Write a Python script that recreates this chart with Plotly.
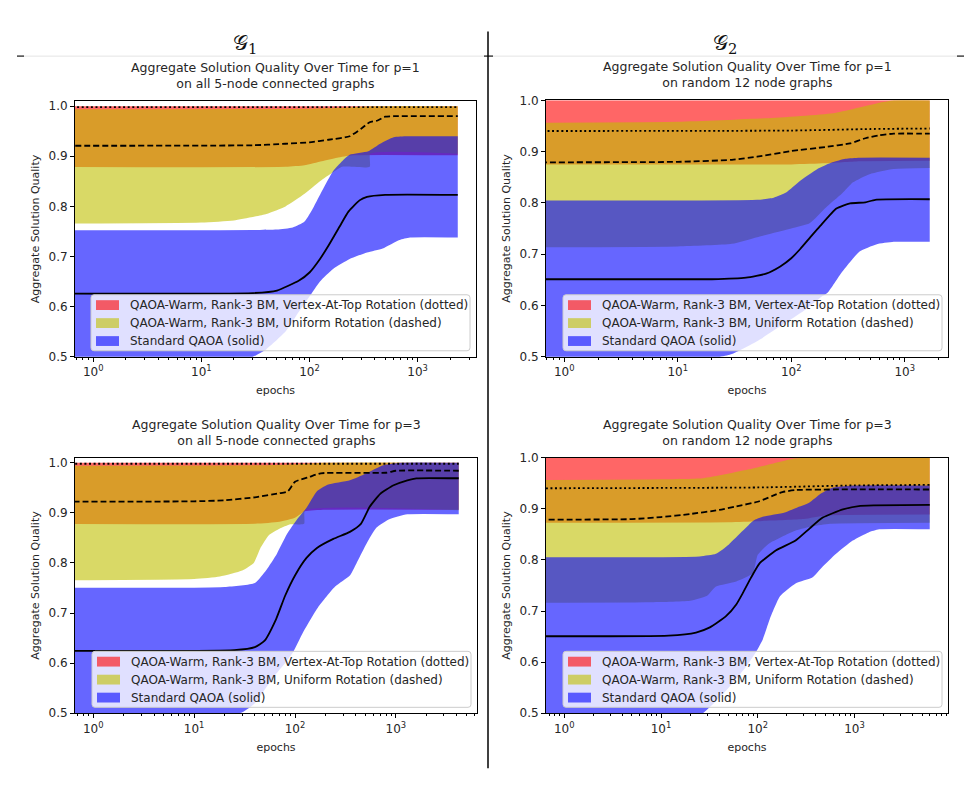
import plotly.graph_objects as go
import math

# ---------------------------------------------------------------- data
COLUMN_HEADERS = ["𝒢<sub>1</sub>", "𝒢<sub>2</sub>"]
PANEL_TITLES = [
    "Aggregate Solution Quality Over Time for p=1<br>on all 5-node connected graphs",
    "Aggregate Solution Quality Over Time for p=1<br>on random 12 node graphs",
    "Aggregate Solution Quality Over Time for p=3<br>on all 5-node connected graphs",
    "Aggregate Solution Quality Over Time for p=3<br>on random 12 node graphs",
]
LEGEND_LABELS = [
    "QAOA-Warm, Rank-3 BM, Vertex-At-Top Rotation (dotted)",
    "QAOA-Warm, Rank-3 BM, Uniform Rotation (dashed)",
    "Standard QAOA (solid)",
]
X_LABEL = "epochs"
Y_LABEL = "Aggregate Solution Quality"
X_TICK_VALS = [1, 10, 100, 1000]
X_TICK_TEXT = ["10<sup>0</sup>", "10<sup>1</sup>", "10<sup>2</sup>", "10<sup>3</sup>"]
Y_TICK_VALS = [0.5, 0.6, 0.7, 0.8, 0.9, 1.0]
Y_TOP = [1.0098, 1.0, 1.0098, 1.0]

# (epoch, quality) points; "vat" = vertex-at-top, "uni" = uniform, "std" = standard QAOA
# --- p=1, 5-node graphs
tl_vat_mean = [(0.1, 0.998), (2350, 0.998)]
tl_vat_lo = [(0.1, 0.879), (60, 0.879), (90, 0.882), (130, 0.89), (180, 0.897), (250, 0.902), (2350, 0.902)]
tl_vat_hi = [(0.1, 1.0), (2350, 1.0)]
tl_uni_mean = [(0.1, 0.921), (30, 0.922), (60, 0.925), (100, 0.928), (150, 0.933), (235, 0.94), (300, 0.955),
               (360, 0.968), (420, 0.971), (500, 0.979), (600, 0.98), (2350, 0.98)]
tl_uni_lo = [(0.1, 0.765), (10, 0.768), (20, 0.772), (40, 0.785), (60, 0.8), (90, 0.825), (125, 0.85),
             (165, 0.868), (200, 0.879), (360, 0.879), (365, 0.905), (2350, 0.905)]
tl_uni_hi = [(0.1, 0.994), (100, 0.995), (200, 0.997), (400, 1.0), (2350, 1.0)]
tl_std_mean = [(0.1, 0.626), (30, 0.627), (50, 0.632), (80, 0.652), (100, 0.668), (125, 0.695), (150, 0.722),
               (190, 0.76), (230, 0.79), (290, 0.812), (340, 0.819), (500, 0.823), (2350, 0.823)]
tl_std_lo = [(0.1, 0.49), (20, 0.495), (30, 0.5), (40, 0.515), (60, 0.55), (80, 0.59), (100, 0.62), (125, 0.65),
             (165, 0.675), (235, 0.695), (340, 0.708), (475, 0.716), (680, 0.733), (850, 0.738), (2350, 0.738)]
tl_std_hi = [(0.1, 0.752), (30, 0.753), (50, 0.754), (70, 0.758), (90, 0.77), (110, 0.8), (130, 0.83),
             (165, 0.87), (200, 0.89), (235, 0.903), (350, 0.91), (450, 0.925), (600, 0.938), (800, 0.94),
             (2350, 0.94)]

# --- p=1, 12-node graphs
tr_vat_mean = [(0.1, 0.940), (100, 0.941), (500, 0.944), (1660, 0.945)]
tr_vat_lo = [(0.1, 0.875), (100, 0.875), (200, 0.877), (400, 0.881), (1660, 0.882)]
tr_vat_hi = [(0.1, 1.0), (1660, 1.0)]
tr_uni_mean = [(0.1, 0.879), (10, 0.88), (30, 0.884), (50, 0.89), (100, 0.901), (200, 0.909), (330, 0.916),
               (450, 0.926), (600, 0.932), (800, 0.935), (1660, 0.935)]
tr_uni_lo = [(0.1, 0.713), (10, 0.715), (30, 0.72), (50, 0.733), (100, 0.75), (145, 0.76), (200, 0.79),
             (280, 0.818), (350, 0.84), (490, 0.856), (800, 0.866), (1660, 0.868)]
tr_uni_hi = [(0.1, 0.956), (10, 0.958), (60, 0.965), (234, 0.975), (565, 0.994), (800, 1.0), (1660, 1.0)]
tr_std_mean = [(0.1, 0.651), (20, 0.651), (40, 0.654), (60, 0.662), (80, 0.676), (100, 0.692), (120, 0.71),
               (150, 0.735), (180, 0.755), (250, 0.789), (330, 0.799), (450, 0.801), (550, 0.806), (1660, 0.807)]
tr_std_lo = [(0.1, 0.495), (20, 0.497), (30, 0.505), (50, 0.53), (85, 0.563), (130, 0.59), (180, 0.615),
             (210, 0.625), (280, 0.665), (400, 0.705), (560, 0.719), (800, 0.724), (1660, 0.724)]
tr_std_hi = [(0.1, 0.805), (50, 0.806), (70, 0.81), (90, 0.82), (120, 0.843), (170, 0.866), (230, 0.879),
             (300, 0.886), (400, 0.888), (1660, 0.888)]

# --- p=3, 5-node graphs
bl_vat_mean = [(0.1, 0.998), (4200, 0.998)]
bl_vat_lo = [(0.1, 0.878), (40, 0.878), (70, 0.882), (100, 0.89), (125, 0.903), (200, 0.906), (4200, 0.906)]
bl_vat_hi = [(0.1, 1.0), (4200, 1.0)]
bl_uni_mean = [(0.1, 0.922), (10, 0.923), (20, 0.925), (40, 0.931), (70, 0.939), (85, 0.943), (100, 0.962),
               (140, 0.972), (180, 0.979), (800, 0.98), (1000, 0.984), (4200, 0.984)]
bl_uni_lo = [(0.1, 0.765), (10, 0.768), (18, 0.773), (30, 0.785), (39, 0.8), (45, 0.828), (55, 0.855),
             (70, 0.868), (90, 0.877), (123, 0.878), (126, 0.905), (4200, 0.905)]
bl_uni_hi = [(0.1, 0.994), (50, 0.995), (100, 0.997), (200, 1.0), (4200, 1.0)]
bl_std_mean = [(0.1, 0.625), (25, 0.626), (40, 0.632), (50, 0.645), (65, 0.688), (80, 0.735), (100, 0.775),
               (130, 0.81), (165, 0.83), (240, 0.848), (350, 0.862), (450, 0.878), (550, 0.912), (700, 0.938),
               (950, 0.955), (1300, 0.965), (1600, 0.969), (4200, 0.969)]
bl_std_lo = [(0.1, 0.49), (20, 0.494), (30, 0.502), (40, 0.52), (60, 0.57), (80, 0.6), (96, 0.622), (120, 0.661),
             (170, 0.712), (250, 0.753), (350, 0.775), (420, 0.805), (510, 0.838), (640, 0.87), (860, 0.887),
             (1300, 0.897), (4200, 0.897)]
bl_std_hi = [(0.1, 0.751), (20, 0.752), (40, 0.76), (52, 0.786), (66, 0.818), (83, 0.857), (105, 0.887),
             (130, 0.91), (165, 0.943), (210, 0.956), (350, 0.965), (500, 0.978), (750, 0.995), (1100, 1.0),
             (4200, 1.0)]

# --- p=3, 12-node graphs
br_vat_mean = [(0.1, 0.940), (100, 0.942), (1000, 0.946), (6000, 0.947)]
br_vat_lo = [(0.1, 0.873), (50, 0.874), (100, 0.876), (300, 0.88), (500, 0.887), (6000, 0.889)]
br_vat_hi = [(0.1, 1.0), (6000, 1.0)]
br_uni_mean = [(0.1, 0.879), (5, 0.88), (10, 0.884), (20, 0.89), (40, 0.898), (60, 0.905), (100, 0.914),
               (140, 0.925), (180, 0.933), (250, 0.937), (6000, 0.938)]
br_uni_lo = [(0.1, 0.716), (7, 0.717), (20, 0.72), (30, 0.73), (37, 0.748), (60, 0.758), (89, 0.774),
             (100, 0.81), (130, 0.832), (190, 0.848), (250, 0.858), (370, 0.866), (560, 0.871), (6000, 0.873)]
br_uni_hi = [(0.1, 0.956), (10, 0.958), (27, 0.96), (89, 0.979), (230, 0.998), (300, 1.0), (6000, 1.0)]
br_std_mean = [(0.1, 0.651), (12, 0.652), (23, 0.658), (32, 0.668), (47, 0.69), (60, 0.713), (70, 0.735),
               (85, 0.765), (104, 0.793), (155, 0.819), (246, 0.838), (345, 0.862), (470, 0.883), (760, 0.899),
               (1150, 0.906), (6000, 0.908)]
br_std_lo = [(0.1, 0.49), (20, 0.495), (27, 0.5), (50, 0.55), (75, 0.59), (96, 0.62), (113, 0.645), (133, 0.684),
             (170, 0.729), (246, 0.754), (370, 0.766), (470, 0.787), (645, 0.812), (960, 0.838), (1400, 0.854),
             (1800, 0.86), (6000, 0.86)]
br_std_hi = [(0.1, 0.806), (25, 0.807), (37, 0.812), (50, 0.83), (70, 0.857), (90, 0.877), (115, 0.885),
             (190, 0.893), (250, 0.902), (340, 0.912), (450, 0.93), (600, 0.942), (1000, 0.946), (6000, 0.946)]

PANEL_DATA = [
    (tl_vat_mean, tl_vat_lo, tl_vat_hi, tl_uni_mean, tl_uni_lo, tl_uni_hi, tl_std_mean, tl_std_lo, tl_std_hi),
    (tr_vat_mean, tr_vat_lo, tr_vat_hi, tr_uni_mean, tr_uni_lo, tr_uni_hi, tr_std_mean, tr_std_lo, tr_std_hi),
    (bl_vat_mean, bl_vat_lo, bl_vat_hi, bl_uni_mean, bl_uni_lo, bl_uni_hi, bl_std_mean, bl_std_lo, bl_std_hi),
    (br_vat_mean, br_vat_lo, br_vat_hi, br_uni_mean, br_uni_lo, br_uni_hi, br_std_mean, br_std_lo, br_std_hi),
]

# ---------------------------------------------------------------- layout / style
W, H = 975, 787
BOXES = [(75, 96, 476, 356), (546, 95, 948, 356), (75, 459, 477, 719), (546, 459, 948, 719)]
FILLS = ["rgba(255,0,0,0.6)", "rgba(191,191,0,0.6)", "rgba(0,0,255,0.6)"]
DASHES = ["2px,2.6px", "6px,3px", "solid"]
FONT = "DejaVu Sans, Verdana, sans-serif"
TXT = "#262626"


def fx(px):
    return px / W


def fy(py):
    return 1 - py / H


def xs(pts):
    return [p[0] for p in pts]


def ys(pts):
    return [p[1] for p in pts]


fig = go.Figure()
shapes = []
annotations = []

for i, (box, data) in enumerate(zip(BOXES, PANEL_DATA)):
    sfx = "" if i == 0 else str(i + 1)
    xid, yid = "x" + sfx, "y" + sfx
    means = [data[0], data[3], data[6]]
    bands = [(data[1], data[2]), (data[4], data[5]), (data[7], data[8])]
    for (lo, hi), col in zip(bands, FILLS):
        fig.add_trace(go.Scatter(x=xs(lo), y=ys(lo), mode="lines", xaxis=xid, yaxis=yid,
                                 line=dict(width=0, shape="spline", smoothing=0.5),
                                 hoverinfo="skip", showlegend=False))
        fig.add_trace(go.Scatter(x=xs(hi), y=ys(hi), mode="lines", xaxis=xid, yaxis=yid,
                                 line=dict(width=0, shape="spline", smoothing=0.5),
                                 fill="tonexty", fillcolor=col, hoverinfo="skip", showlegend=False))
    for m, dash in zip(means, DASHES):
        fig.add_trace(go.Scatter(x=xs(m), y=ys(m), mode="lines", xaxis=xid, yaxis=yid,
                                 line=dict(color="black", width=1.8, dash=dash, shape="spline", smoothing=0.5),
                                 hoverinfo="skip", showlegend=False))

    x0, y0, x1, y1 = box
    end_ep = max(p[0] for p in data[6])
    lg = math.log10(end_ep)
    fig.layout["xaxis" + sfx] = dict(
        type="log", domain=[fx(x0), fx(x1)], range=[-0.05 * lg, 1.05 * lg], anchor=yid,
        showline=True, linecolor="black", linewidth=1, mirror=True,
        ticks="outside", ticklen=4, tickwidth=1, tickcolor="black",
        tickmode="array", tickvals=X_TICK_VALS, ticktext=X_TICK_TEXT,
        tickfont=dict(size=12, color=TXT, family=FONT),
        showgrid=False, zeroline=False,
        title=dict(text=X_LABEL, font=dict(size=11, color=TXT, family=FONT), standoff=8),
        minor=dict(ticks="outside", ticklen=2, tickcolor="black", dtick="D1", showgrid=False),
    )
    fig.layout["yaxis" + sfx] = dict(
        domain=[fy(y1), fy(y0)], range=[0.5, Y_TOP[i]], anchor=xid,
        showline=True, linecolor="black", linewidth=1, mirror=True,
        ticks="outside", ticklen=4, tickwidth=1, tickcolor="black",
        tickmode="array", tickvals=Y_TICK_VALS, ticktext=["%.1f" % v for v in Y_TICK_VALS],
        tickfont=dict(size=12, color=TXT, family=FONT),
        showgrid=False, zeroline=False,
        title=dict(text=Y_LABEL, font=dict(size=11, color=TXT, family=FONT), standoff=6),
    )

    # panel title
    annotations.append(dict(text=PANEL_TITLES[i], xref="paper", yref="paper",
                            x=fx((x0 + x1) / 2), y=fy(y0 - 8), xanchor="center", yanchor="bottom",
                            showarrow=False, align="center",
                            font=dict(size=12.5, color=TXT, family=FONT)))

    # legend box (lower right)
    lx1, ly1 = x1 - 6, y1 - 6
    lx0, ly0 = lx1 - 379, ly1 - 57
    r = 3
    path = (f"M{fx(lx0 + r)},{fy(ly0)} L{fx(lx1 - r)},{fy(ly0)} Q{fx(lx1)},{fy(ly0)} {fx(lx1)},{fy(ly0 + r)} "
            f"L{fx(lx1)},{fy(ly1 - r)} Q{fx(lx1)},{fy(ly1)} {fx(lx1 - r)},{fy(ly1)} "
            f"L{fx(lx0 + r)},{fy(ly1)} Q{fx(lx0)},{fy(ly1)} {fx(lx0)},{fy(ly1 - r)} "
            f"L{fx(lx0)},{fy(ly0 + r)} Q{fx(lx0)},{fy(ly0)} {fx(lx0 + r)},{fy(ly0)} Z")
    shapes.append(dict(type="path", path=path, xref="paper", yref="paper", layer="above",
                       fillcolor="rgba(255,255,255,0.8)", line=dict(color="#cccccc", width=1)))
    for k, (lab, col) in enumerate(zip(LEGEND_LABELS, FILLS)):
        cy = ly0 + 10.5 + k * 18.3
        shapes.append(dict(type="rect", xref="paper", yref="paper", layer="above",
                           x0=fx(lx0 + 5), x1=fx(lx0 + 28), y0=fy(cy - 5), y1=fy(cy + 5),
                           fillcolor=col, line=dict(width=0)))
        annotations.append(dict(text=lab, xref="paper", yref="paper", x=fx(lx0 + 37), y=fy(cy),
                                xanchor="left", yanchor="middle", showarrow=False,
                                font=dict(size=12, color=TXT, family=FONT)))

# column headers and separators
for k, cx in enumerate([245, 725]):
    annotations.append(dict(text=COLUMN_HEADERS[k], xref="paper", yref="paper", x=fx(cx), y=fy(38),
                            xanchor="center", yanchor="middle", showarrow=False,
                            font=dict(size=21, color="#111111", family="DejaVu Serif, serif")))
shapes.append(dict(type="line", xref="paper", yref="paper", x0=fx(22), x1=fx(960), y0=fy(50), y1=fy(50),
                   line=dict(color="#e4e4e4", width=1)))
for a, b in [(17, 24), (484, 493), (957, 964)]:
    shapes.append(dict(type="line", xref="paper", yref="paper", x0=fx(a), x1=fx(b), y0=fy(50), y1=fy(50),
                       line=dict(color="#444444", width=1.5)))
shapes.append(dict(type="line", xref="paper", yref="paper", x0=fx(488), x1=fx(488), y0=fy(25), y1=fy(775),
                   line=dict(color="black", width=1.5)))

fig.update_layout(width=W, height=H, margin=dict(l=0, r=0, t=0, b=0),
                  paper_bgcolor="white", plot_bgcolor="white", showlegend=False,
                  font=dict(family=FONT, color=TXT),
                  shapes=shapes, annotations=annotations)

fig.write_html("out.html", config={"displayModeBar": False},
               post_script="document.body.style.margin='0';")
